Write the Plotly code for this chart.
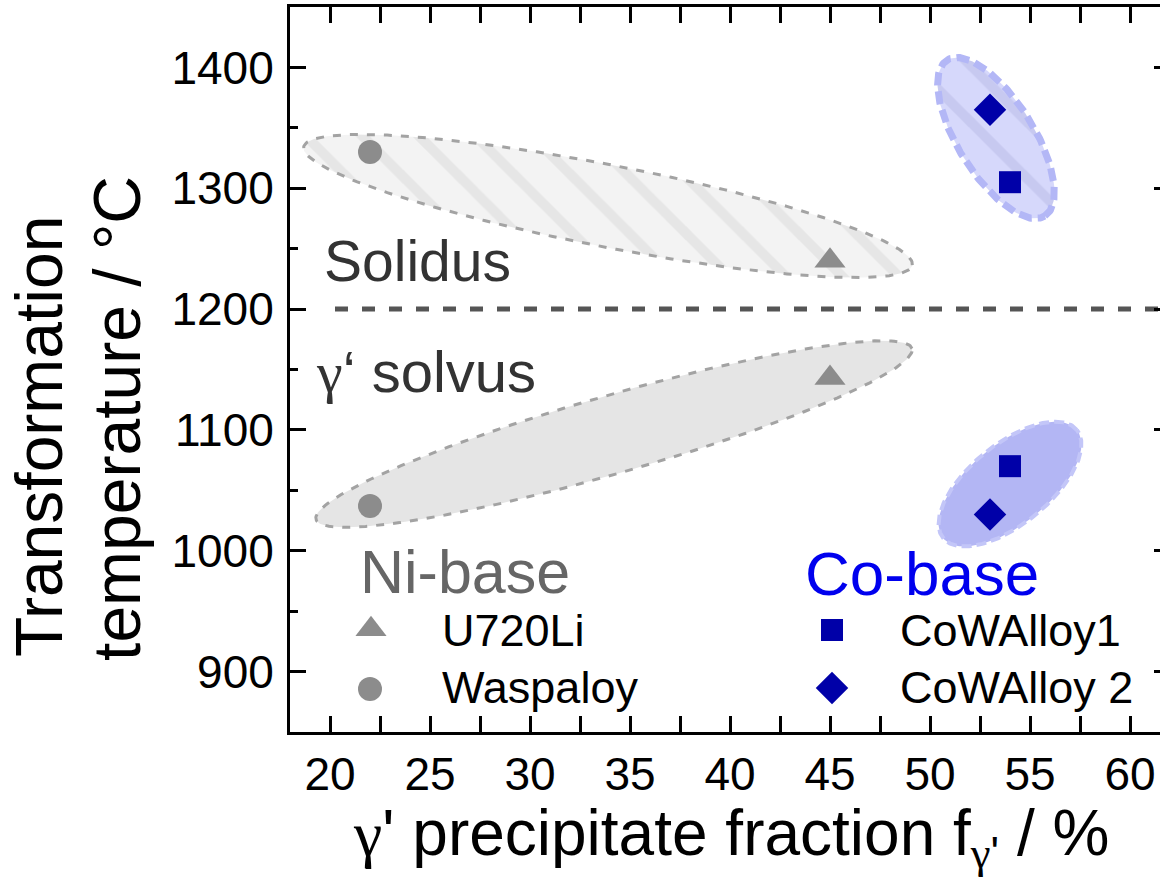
import numpy as np
import plotly.graph_objects as go

# ---- data -------------------------------------------------------------
alloys = ["U720Li", "Waspaloy", "CoWAlloy1", "CoWAlloy 2"]
gp_fraction = [45, 22, 54, 53]          # gamma' precipitate fraction / %
solidus_temp = [1240, 1330, 1305, 1365]  # °C
solvus_temp = [1143, 1037, 1070, 1030]   # °C
alloy_symbol = ["triangle-up", "circle", "square", "diamond"]
alloy_color = ["#8c8c8c", "#8c8c8c", "#0000a8", "#0000a8"]
alloy_size = [27, 24, 22, 25]

divider_temp = 1200
divider_start = 20.25

x_ticks = [20, 25, 30, 35, 40, 45, 50, 55, 60]
y_ticks = [900, 1000, 1100, 1200, 1300, 1400]

# ---- layout constants --------------------------------------------------
W, H = 1160, 886
ML, MR, MT, MB = 290, 0, 7, 154
XR = [18, 61.5]
YR = [850, 1450]
px_x = (W - ML - MR) / (XR[1] - XR[0])
px_y = (H - MT - MB) / (YR[1] - YR[0])

SANS = "Liberation Sans, Arial, sans-serif"
SERIF = "Liberation Serif, Times New Roman, serif"

# grouping regions: centre (data), semi-axes (px), tilt (deg, ccw)
regions = [
    dict(c=(33.9, 1285.3), a=310, b=41, ang=-11,
         fill="#f3f3f3", stripe="#d9d9d9", line="#a3a3a3", lw=3, dash="8px,9px"),
    dict(c=(34.2, 1096.6), a=310, b=39, ang=16,
         fill="#e5e5e5", stripe=None, line="#a3a3a3", lw=3, dash="8px,9px"),
    dict(c=(53.3, 1341.6), a=92, b=38, ang=-58,
         fill="#d6d8fb", stripe="#b8bae6", line="#b3b7f6", lw=7, dash="13px,6px"),
    dict(c=(54.0, 1055.2), a=86, b=40, ang=39,
         fill="#b3b6f4", stripe=None, line="#c3c6f8", lw=4, dash="10px,5px"),
]

fig = go.Figure()

t = np.linspace(0, 2 * np.pi, 241)
for r in regions:
    th = np.deg2rad(r["ang"])
    u = r["a"] * np.cos(t)
    v = r["b"] * np.sin(t)
    X = u * np.cos(th) - v * np.sin(th)
    Y = u * np.sin(th) + v * np.cos(th)
    xs = r["c"][0] + X / px_x
    ys = r["c"][1] + Y / px_y
    kw = dict(fillcolor=r["fill"])
    if r["stripe"]:
        kw["fillpattern"] = dict(shape="\\", bgcolor=r["fill"], fgcolor=r["stripe"],
                                 size=40, solidity=0.25)
    fig.add_trace(go.Scatter(
        x=xs, y=ys, mode="lines", fill="toself",
        line=dict(color=r["line"], width=r["lw"], dash=r["dash"]),
        hoverinfo="skip", **kw))

# dashed divider between solidus and solvus regimes
fig.add_trace(go.Scatter(
    x=[divider_start, XR[1]], y=[divider_temp, divider_temp], mode="lines",
    line=dict(color="#555555", width=5, dash="13px,14px"), hoverinfo="skip"))

# alloy data points (solidus and gamma' solvus)
for i, name in enumerate(alloys):
    fig.add_trace(go.Scatter(
        x=[gp_fraction[i], gp_fraction[i]], y=[solidus_temp[i], solvus_temp[i]],
        mode="markers", name=name,
        marker=dict(symbol=alloy_symbol[i], color=alloy_color[i],
                    size=alloy_size[i], line=dict(width=0))))

# hand-built key: symbol position and label position (data units)
key = [
    dict(sym=(22.05, 935.0), txt=(25.5, 933.6)),
    dict(sym=(22.0, 885.6), txt=(25.5, 887.2)),
    dict(sym=(45.1, 934.4), txt=(48.4, 933.6)),
    dict(sym=(45.1, 886.4), txt=(48.4, 887.2)),
]
for i, k in enumerate(key):
    fig.add_trace(go.Scatter(
        x=[k["sym"][0]], y=[k["sym"][1]], mode="markers",
        marker=dict(symbol=alloy_symbol[i], color=alloy_color[i],
                    size=alloy_size[i], line=dict(width=0)),
        hoverinfo="skip"))

# right-hand tick stubs
fig.add_trace(go.Scatter(x=[XR[0]], y=[YR[0]], yaxis="y2", mode="markers",
                         marker=dict(size=1, opacity=0), hoverinfo="skip"))

annotations = []
for i, k in enumerate(key):
    annotations.append(dict(x=k["txt"][0], y=k["txt"][1], xref="x", yref="y",
                            text=alloys[i], showarrow=False, xanchor="left",
                            yanchor="middle", font=dict(family=SANS, size=45, color="black")))

labels = [
    dict(x=19.6, y=1240, text="Solidus", size=57, color="#333333"),
    dict(x=19.2, y=1148, text=f"<span style=\"font-family:{SERIF}\">γ</span>‘ solvus",
         size=58, color="#333333"),
    dict(x=21.4, y=982.8, text="Ni-base", size=61, color="#666666"),
    dict(x=43.65, y=981.0, text="Co-base", size=62, color="#0000ee"),
]
for lb in labels:
    annotations.append(dict(x=lb["x"], y=lb["y"], xref="x", yref="y", text=lb["text"],
                            showarrow=False, xanchor="left", yanchor="middle",
                            font=dict(family=SANS, size=lb["size"], color=lb["color"])))

# axis titles
annotations += [
    dict(x=-0.2885, y=0.407, xref="paper", yref="paper", text="Transformation",
         textangle=-90, showarrow=False, xanchor="center", yanchor="middle",
         font=dict(family=SANS, size=66, color="black")),
    dict(x=-0.199, y=0.433, xref="paper", yref="paper", text="temperature / °C",
         textangle=-90, showarrow=False, xanchor="center", yanchor="middle",
         font=dict(family=SANS, size=66, color="black")),
    dict(x=0.507, y=-0.145, xref="paper", yref="paper",
         text=(f"<span style=\"font-family:{SERIF}\">γ</span>' precipitate fraction f"
               f"<sub><span style=\"font-family:{SERIF}\">γ</span>'</sub> / %"),
         showarrow=False, xanchor="center", yanchor="middle",
         font=dict(family=SANS, size=64, color="black")),
]

axis_common = dict(showgrid=False, zeroline=False, ticks="inside", ticklen=16,
                   tickwidth=3, tickcolor="black", showline=True, linewidth=3,
                   linecolor="black", tickfont=dict(family=SANS, size=46, color="black"))

fig.update_layout(
    width=W, height=H,
    margin=dict(l=ML, r=MR, t=MT, b=MB),
    paper_bgcolor="white", plot_bgcolor="white",
    showlegend=False,
    annotations=annotations,
    xaxis=dict(range=XR, tickvals=x_ticks, mirror="allticks", ticklabelstandoff=0,
               minor=dict(ticks="inside", ticklen=8, tickwidth=3, tickcolor="black",
                          dtick=2.5, tick0=0),
               **axis_common),
    yaxis=dict(range=YR, tickvals=y_ticks, mirror=False, ticklabelstandoff=4,
               minor=dict(ticks="inside", ticklen=8, tickwidth=3, tickcolor="black",
                          dtick=50, tick0=0),
               **axis_common),
    yaxis2=dict(range=YR, overlaying="y", side="right", tickvals=y_ticks,
                ticks="inside", ticklen=6, tickwidth=3, tickcolor="black",
                showticklabels=False, showline=False, showgrid=False, zeroline=False),
)

fig.write_html("out.html")
